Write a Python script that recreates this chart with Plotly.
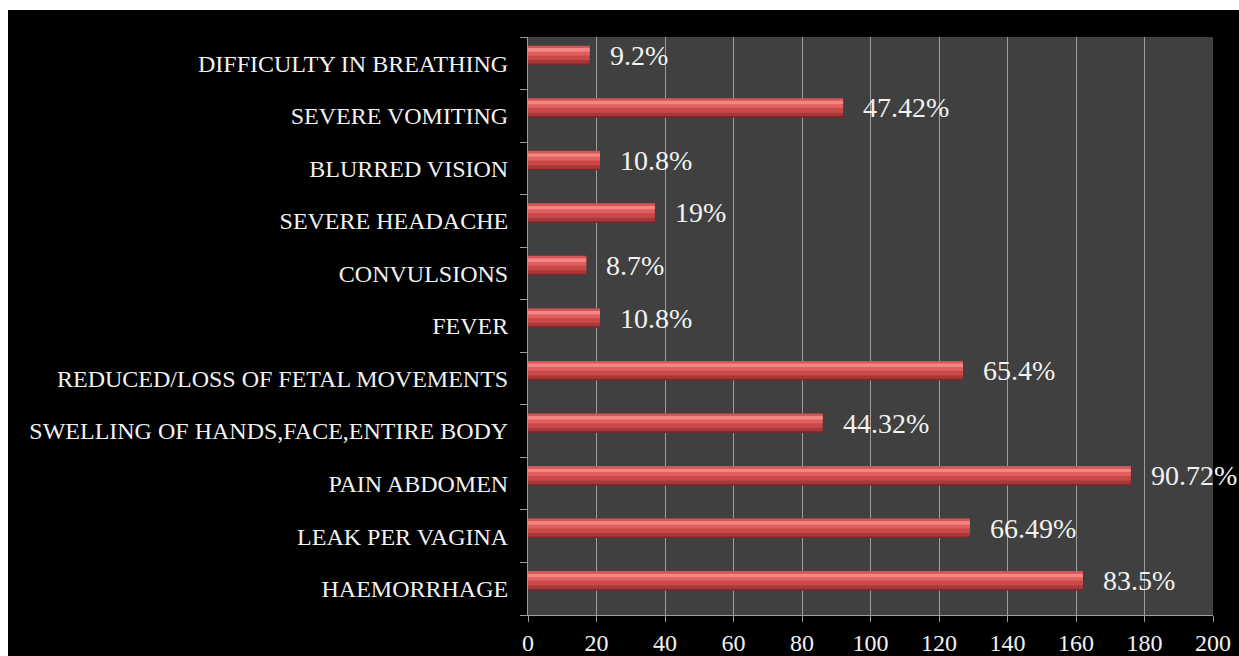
import plotly.graph_objects as go

# Data (bottom-to-top order as displayed)
categories = [
    "HAEMORRHAGE",
    "LEAK PER VAGINA",
    "PAIN ABDOMEN",
    "SWELLING OF HANDS,FACE,ENTIRE BODY",
    "REDUCED/LOSS OF FETAL MOVEMENTS",
    "FEVER",
    "CONVULSIONS",
    "SEVERE HEADACHE",
    "BLURRED VISION",
    "SEVERE VOMITING",
    "DIFFICULTY IN BREATHING",
]
counts = [162, 129, 176, 86, 127, 21, 17, 37, 21, 92, 18]
pct_labels = ["83.5%", "66.49%", "90.72%", "44.32%", "65.4%", "10.8%",
              "8.7%", "19%", "10.8%", "47.42%", "9.2%"]
x_ticks = [0, 20, 40, 60, 80, 100, 120, 140, 160, 180, 200]

W, H = 1239, 656
ML, MR, MT, MB = 528, 26, 37, 41
PW, PH = W - ML - MR, H - MT - MB

FONT = "Liberation Serif, Times New Roman, serif"

fig = go.Figure()

# layered bars to mimic the bevelled 3D look
layers = [
    (-0.035, 0.37, "#7e2626"),   # dark bottom edge
    (-0.005, 0.33, "#a83838"),   # lower shade
    (0.06, 0.25, "#cc4848"),     # main body
    (0.15, 0.14, "#e06060"),     # upper body
    (0.22, 0.07, "#f58585"),     # highlight
    (0.29, 0.045, "#d05858"),    # top edge
]
for off, wid, col in layers:
    fig.add_trace(go.Bar(
        x=counts, y=categories, orientation="h",
        offset=off, width=wid,
        marker=dict(color=col, line=dict(width=0)),
        hoverinfo="skip", showlegend=False,
    ))

for c, v, lab in zip(categories, counts, pct_labels):
    fig.add_annotation(
        x=v, y=c, xref="x", yref="y", text=lab, showarrow=False,
        xanchor="left", yanchor="middle", xshift=18, yshift=8,
        font=dict(family=FONT, size=28, color="#f2f2f2"),
    )

# white border strips at the top and left
px = lambda p: (p - ML) / PW
py = lambda p: (H - MB - p) / PH
fig.add_shape(type="rect", xref="paper", yref="paper",
              x0=px(-5), x1=px(W + 5), y0=py(10), y1=py(-5),
              fillcolor="white", line=dict(width=0), layer="below")
fig.add_shape(type="rect", xref="paper", yref="paper",
              x0=px(-5), x1=px(8), y0=py(H + 5), y1=py(-5),
              fillcolor="white", line=dict(width=0), layer="below")

fig.update_layout(
    width=W, height=H,
    margin=dict(l=ML, r=MR, t=MT, b=MB, autoexpand=False),
    paper_bgcolor="black",
    plot_bgcolor="#404040",
    barmode="overlay",
    showlegend=False,
    xaxis=dict(
        range=[0, 200], tickvals=x_ticks, ticktext=[str(t) for t in x_ticks],
        showgrid=True, gridcolor="#9c9c9c", gridwidth=1,
        showline=True, linecolor="#9c9c9c", linewidth=1,
        ticks="outside", ticklen=6, tickcolor="#9c9c9c",
        tickfont=dict(family=FONT, size=24, color="#f2f2f2"),
        zeroline=False, fixedrange=True, automargin=False,
    ),
    yaxis=dict(
        categoryorder="array", categoryarray=categories,
        showgrid=False, showline=True, linecolor="#9c9c9c", linewidth=1,
        ticks="outside", ticklen=7, tickcolor="#9c9c9c", tickson="boundaries",
        ticklabelstandoff=14,
        tickfont=dict(family=FONT, size=24, color="#f2f2f2"),
        fixedrange=True, automargin=False,
    ),
)

fig.write_html(
    "out.html",
    config={"displayModeBar": False},
    post_script="document.body.style.margin='0';"
                "document.body.style.overflow='hidden';",
)
